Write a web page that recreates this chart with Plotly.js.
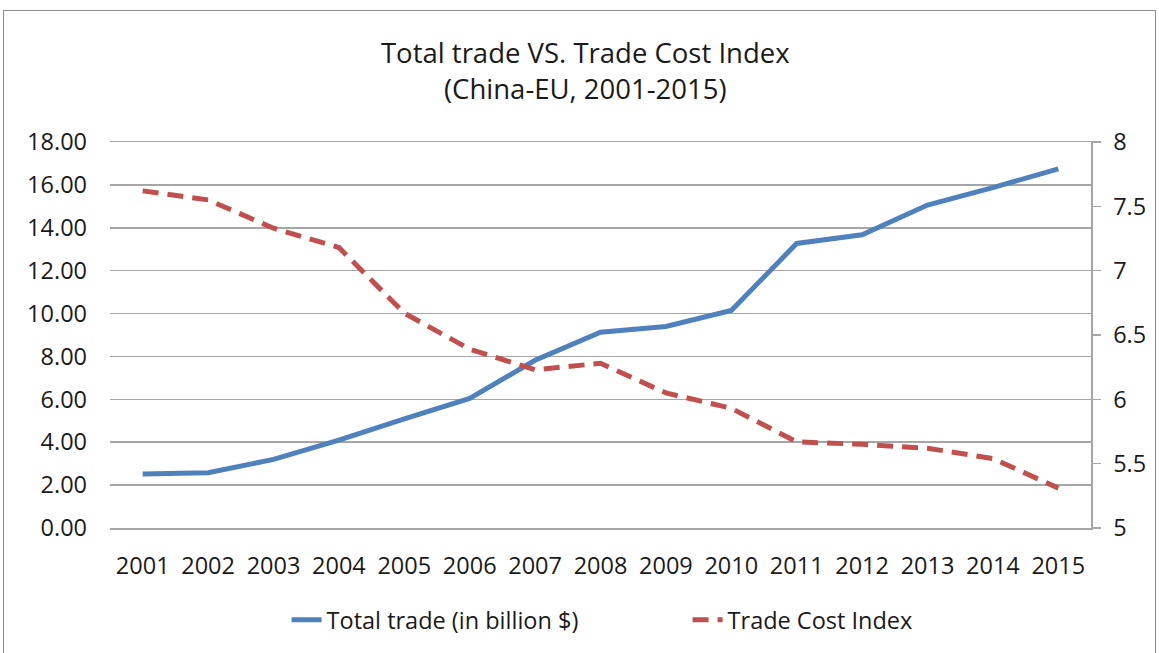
<!DOCTYPE html>
<html>
<head>
<meta charset="utf-8">
<script src="https://cdn.plot.ly/plotly-3.0.1.min.js"></script>
<style>
html,body{margin:0;padding:0;background:#fff;}
#frame{position:absolute;left:3px;top:10px;width:1153px;height:660px;border:1.5px solid #8c8c8c;box-sizing:border-box;}
#chart{position:absolute;left:0;top:0;width:1159px;height:653px;}
</style>
</head>
<body>
<div id="frame"></div>
<div id="chart"></div>
<script>
const years = ['2001','2002','2003','2004','2005','2006','2007','2008','2009','2010','2011','2012','2013','2014','2015'];
const totalTrade = [2.52, 2.58, 3.2, 4.1, 5.09, 6.04, 7.82, 9.13, 9.4, 10.14, 13.27, 13.67, 15.06, 15.87, 16.75];
const tradeCostIndex = [7.62, 7.55, 7.33, 7.18, 6.67, 6.39, 6.23, 6.28, 6.05, 5.93, 5.67, 5.65, 5.62, 5.54, 5.31];
const leftTicks = [0,2,4,6,8,10,12,14,16,18];
const rightTicks = [5,5.5,6,6.5,7,7.5,8];

const font = 'Open Sans, Noto Sans, sans-serif';
const tickFont = {family: font, size: 23.5, color: '#1a1a1a'};
const traces = [
  {x: years, y: totalTrade, name: 'Total trade (in billion $)', type: 'scatter', mode: 'lines',
   line: {color: '#4F81BD', width: 5}, yaxis: 'y'},
  {x: years, y: tradeCostIndex, name: 'Trade Cost Index', type: 'scatter', mode: 'lines',
   line: {color: '#C0504D', width: 5, dash: '16px,9px'}, yaxis: 'y2'}
];
const layout = {
  width: 1159, height: 653,
  margin: {l: 110, r: 68, t: 142, b: 125, autoexpand: false},
  paper_bgcolor: 'rgba(0,0,0,0)', plot_bgcolor: 'rgba(0,0,0,0)',
  title: {text: 'Total trade VS. Trade Cost Index<br>(China-EU, 2001-2015)', x: 0.505, xanchor: 'center',
          y: 1 - 63/653, yanchor: 'top', automargin: false,
          font: {family: font, size: 27.5, color: '#1a1a1a'}},
  font: {family: font, color: '#1a1a1a'},
  showlegend: true,
  legend: {orientation: 'h', xref: 'paper', x: 0.18, xanchor: 'left',
           yref: 'container', y: 1 - 620/653, yanchor: 'middle',
           entrywidth: 356, entrywidthmode: 'pixels',
           font: {family: font, size: 23.5, color: '#1a1a1a'}},
  xaxis: {type: 'category', range: [-0.5, 14.5], showgrid: false, showline: true, mirror: true,
          linecolor: '#a6a6a6', linewidth: 1.5, ticks: '', ticklabelstandoff: 16, automargin: false,
          tickfont: tickFont, fixedrange: true},
  yaxis: {range: [0, 18], tickvals: leftTicks, ticktext: leftTicks.map(v => v.toFixed(2)),
          showgrid: true, gridcolor: '#a6a6a6', gridwidth: 1.5, zeroline: false, showline: false, ticks: '',
          tickfont: tickFont, ticklabelstandoff: 22, automargin: false},
  yaxis2: {range: [5, 8], tickvals: rightTicks, ticktext: rightTicks.map(String), overlaying: 'y', side: 'right',
           showgrid: false, zeroline: false, showline: true, linecolor: '#a6a6a6', linewidth: 1.5,
           ticks: 'outside', ticklen: 8, tickcolor: '#a6a6a6', tickwidth: 1.5, ticklabelstandoff: 8,
           automargin: false, tickfont: tickFont}
};
Plotly.newPlot('chart', traces, layout, {displayModeBar: false, staticPlot: true});
</script>
</body>
</html>
